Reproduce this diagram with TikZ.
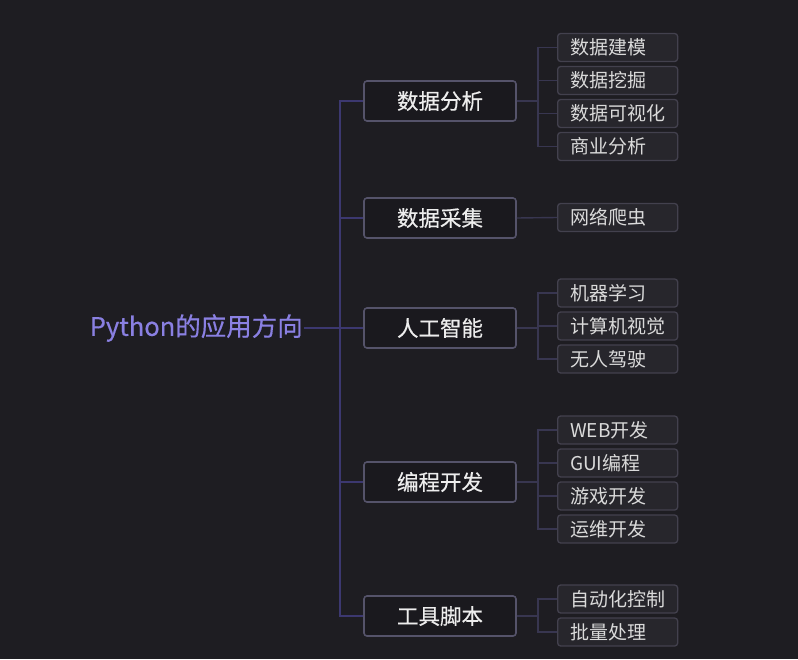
\documentclass[tikz,border=0pt]{standalone}
\usepackage{fontspec}
\setmainfont{Noto Sans CJK SC}
\newfontfamily\medfont[FakeBold=0.5]{Noto Sans CJK SC}
\definecolor{bg}{HTML}{1E1D22}
\definecolor{midfill}{HTML}{1A191E}
\definecolor{midborder}{HTML}{55536A}
\definecolor{leaffill}{HTML}{27262C}
\definecolor{leafborder}{HTML}{43414E}
\definecolor{trunkcol}{HTML}{3C3870}
\definecolor{subcol}{HTML}{383650}
\definecolor{rootcol}{HTML}{8A80E2}
\definecolor{midtext}{HTML}{EDEDED}
\definecolor{leaftext}{HTML}{DADADA}
\tikzset{
  rootbox/.style={anchor=east, inner sep=1pt, text=rootcol, font=\medfont\fontsize{25.5}{30}\selectfont},
  midbox/.style={draw=midborder, fill=midfill, line width=1.6pt, rounded corners=3pt,
    minimum width=152pt, minimum height=40pt, inner sep=0pt, text=midtext,
    font=\medfont\fontsize{21.5}{26}\selectfont},
  leafbox/.style={draw=leafborder, fill=leaffill, line width=1.3pt, rounded corners=3pt,
    minimum width=120pt, minimum height=28pt, inner xsep=12.5pt, inner ysep=0pt,
    anchor=west, text=leaftext, font=\fontsize{19}{23}\selectfont},
  trunkline/.style={draw=trunkcol, line width=1.8pt},
  subline/.style={draw=subcol, line width=1.4pt},
}
\newcommand{\lf}[1]{\makebox[95pt][l]{#1}}
\begin{document}
\begin{tikzpicture}[x=1pt,y=-1pt]
\fill[bg] (0,0) rectangle (798,659);
\useasboundingbox (0,0) rectangle (798,659);
\coordinate (t) at (340,0);
\coordinate (s) at (538,0);
\node[rootbox] (root) at (304,328) {Python的应用方向};
\node[midbox] (m1) at (440,101) {数据分析};
\node[midbox] (m2) at (440,218) {数据采集};
\node[midbox] (m3) at (440,328) {人工智能};
\node[midbox] (m4) at (440,482) {编程开发};
\node[midbox] (m5) at (440,616) {工具脚本};
\node[leafbox] (a1) at (557,47.5) {\lf{数据建模}};
\node[leafbox] (a2) at (557,80.5) {\lf{数据挖掘}};
\node[leafbox] (a3) at (557,113.5) {\lf{数据可视化}};
\node[leafbox] (a4) at (557,146.5) {\lf{商业分析}};
\node[leafbox] (b1) at (557,217.5) {\lf{网络爬虫}};
\node[leafbox] (c1) at (557,293) {\lf{机器学习}};
\node[leafbox] (c2) at (557,326) {\lf{计算机视觉}};
\node[leafbox] (c3) at (557,359) {\lf{无人驾驶}};
\node[leafbox] (d1) at (557,430) {\lf{WEB开发}};
\node[leafbox] (d2) at (557,463) {\lf{GUI编程}};
\node[leafbox] (d3) at (557,496) {\lf{游戏开发}};
\node[leafbox] (d4) at (557,529) {\lf{运维开发}};
\node[leafbox] (e1) at (557,599) {\lf{自动化控制}};
\node[leafbox] (e2) at (557,632) {\lf{批量处理}};
% trunk
\path[trunkline] (m1.west) -- (m1.west -| t) -- (m5.west -| t) -- (m5.west);
\path[trunkline] (m2.west -| t) -- (m2.west);
\path[trunkline] (m3.west -| t) -- (m3.west);
\path[trunkline] (m4.west -| t) -- (m4.west);
\path[trunkline] (root.east) -- (root.east -| t);
% sub connectors
\foreach \m/\l in {m1/a1,m1/a2,m1/a3,m1/a4,m3/c1,m3/c2,m3/c3,m4/d1,m4/d2,m4/d3,m4/d4,m5/e1,m5/e2}{
  \path[subline] (\m.east) -- (\m.east -| s) |- (\l.west);
}
\path[subline] (m2.east) -- (b1.west);
\end{tikzpicture}
\end{document}
